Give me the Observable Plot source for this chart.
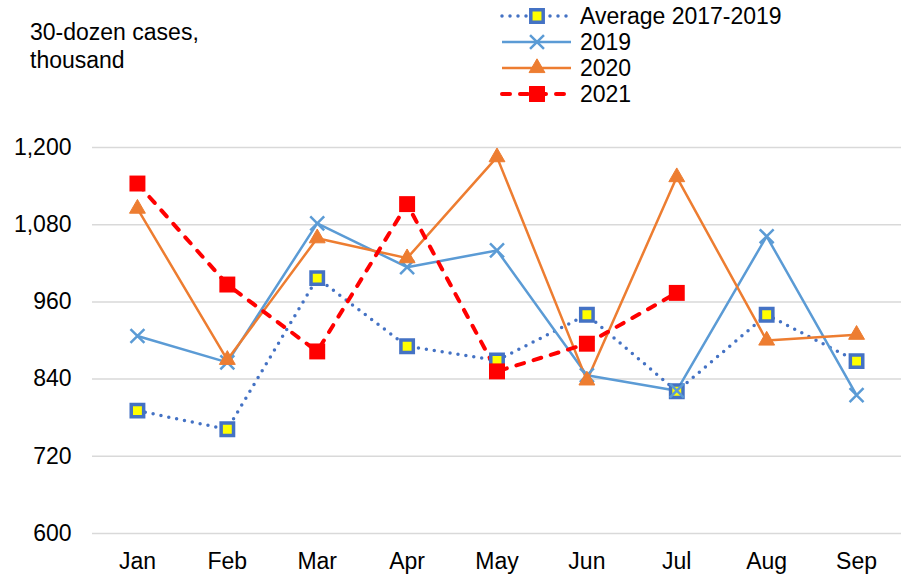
<!DOCTYPE html>
<html>
<head>
<meta charset="utf-8">
<script src="https://cdn.jsdelivr.net/npm/d3@7"></script>
<script src="https://cdn.jsdelivr.net/npm/@observablehq/plot@0.6"></script>
<style>
  html, body { margin: 0; padding: 0; background: #fff; }
  #wrap { position: relative; width: 901px; height: 575px; font-family: "Liberation Sans", Arial, sans-serif; color: #000; }
  #ytitle { position: absolute; left: 30px; top: 18px; font-size: 23px; line-height: 28px; }
  #legend { position: absolute; left: 0; top: 0; }
</style>
</head>
<body>
<div id="wrap">
  <div id="chart"></div>
  <div id="ytitle">30-dozen cases,<br>thousand</div>
  <svg id="legend" width="901" height="110"></svg>
</div>
<script>
const months = ["Jan", "Feb", "Mar", "Apr", "May", "Jun", "Jul", "Aug", "Sep"];
const avg2017_2019 = [791, 762, 997, 891, 869, 940, 821, 940, 868];
const y2019 = [907, 866, 1082, 1014, 1040, 846, 822, 1062, 815];
const y2020 = [1105, 870, 1059, 1028, 1185, 838, 1154, 900, 909];
const y2021 = [1144, 987, 883, 1112, 852, 895, 974];
const yTicks = [600, 720, 840, 960, 1080, 1200];
const seriesNames = ["Average 2017-2019", "2019", "2020", "2021"];

const toRows = (vals) => vals.map((v, i) => ({month: months[i], value: v}));
const dAvg = toRows(avg2017_2019);
const d19 = toRows(y2019);
const d20 = toRows(y2020);
const d21 = toRows(y2021);

const styles = {
  avg: {line: {stroke: "#4472C4", strokeWidth: 3.5, strokeDasharray: "0,8", strokeLinecap: "round"},
        dot: {symbol: "square", r: 7, fill: "#FFFF00", stroke: "#4472C4", strokeWidth: 3.5}},
  s19: {line: {stroke: "#5B9BD5", strokeWidth: 2.5},
        dot: {symbol: "times", r: 6.4, fill: "none", stroke: "#5B9BD5", strokeWidth: 2.5}},
  s20: {line: {stroke: "#ED7D31", strokeWidth: 2.5},
        dot: {symbol: "triangle", r: 5.9, fill: "#ED7D31", stroke: "#ED7D31", strokeWidth: 1}},
  s21: {line: {stroke: "#FF0000", strokeWidth: 4, strokeDasharray: "8,10", strokeLinecap: "round"},
        dot: {symbol: "square", r: 9, fill: "#FF0000", stroke: "none"}}
};

const chart = Plot.plot({
  width: 901,
  height: 575,
  marginLeft: 92,
  marginRight: 0,
  marginTop: 147,
  marginBottom: 42,
  style: {fontFamily: "'Liberation Sans', Arial, sans-serif", fontSize: "23px", color: "#000", background: "transparent"},
  x: {type: "point", domain: months, padding: 0.5, round: false, label: null},
  y: {domain: [600, 1200], label: null},
  marks: [
    Plot.gridY(yTicks, {stroke: "#D9D9D9", strokeOpacity: 1, strokeWidth: 1.5}),
    Plot.axisY(yTicks, {tickSize: 0, tickPadding: 21, tickFormat: d3.format(","), fontSize: 23, label: null}),
    Plot.axisX({tickSize: 0, tickPadding: 19, fontSize: 23, label: null}),
    Plot.line(dAvg, {x: "month", y: "value", ...styles.avg.line}),
    Plot.line(d19, {x: "month", y: "value", ...styles.s19.line}),
    Plot.line(d20, {x: "month", y: "value", ...styles.s20.line}),
    Plot.line(d21, {x: "month", y: "value", ...styles.s21.line}),
    Plot.dot(dAvg, {x: "month", y: "value", ...styles.avg.dot}),
    Plot.dot(d19, {x: "month", y: "value", ...styles.s19.dot}),
    Plot.dot(d20, {x: "month", y: "value", ...styles.s20.dot}),
    Plot.dot(d21, {x: "month", y: "value", ...styles.s21.dot})
  ]
});
document.getElementById("chart").appendChild(chart);

// Legend
const leg = d3.select("#legend");
const keys = ["avg", "s19", "s20", "s21"];
const rowY = [16, 42, 68, 94];
const sym = {square: d3.symbolSquare, times: d3.symbolTimes, triangle: d3.symbolTriangle};
keys.forEach((k, i) => {
  const s = styles[k];
  const g = leg.append("g").attr("transform", `translate(0,${rowY[i]})`);
  g.append("line").attr("x1", 502).attr("x2", 571).attr("y1", 0).attr("y2", 0)
    .attr("stroke", s.line.stroke).attr("stroke-width", s.line.strokeWidth)
    .attr("stroke-dasharray", s.line.strokeDasharray || null)
    .attr("stroke-linecap", s.line.strokeLinecap || null);
  g.append("path")
    .attr("transform", "translate(537,0)")
    .attr("d", d3.symbol(sym[s.dot.symbol], Math.PI * s.dot.r * s.dot.r)())
    .attr("fill", s.dot.fill).attr("stroke", s.dot.stroke)
    .attr("stroke-width", s.dot.strokeWidth);
  g.append("text").attr("x", 580).attr("y", 0).attr("dy", "0.36em")
    .attr("font-family", "'Liberation Sans', Arial, sans-serif").attr("font-size", 23)
    .attr("fill", "#000").text(seriesNames[i]);
});
</script>
</body>
</html>
